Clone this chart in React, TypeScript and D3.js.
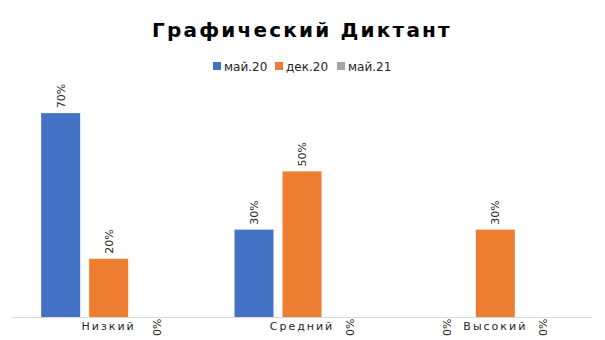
import React from 'react';
import * as d3 from 'd3';

const categories = ['Низкий', 'Средний', 'Высокий'];
const seriesNames = ['май.20', 'дек.20', 'май.21'];
const seriesColors = ['#4472C4', '#ED7D31', '#A5A5A5'];
const may20 = [0.7, 0.3, 0];
const dec20 = [0.2, 0.5, 0.3];
const may21 = [0, 0, 0];
const seriesValues = [may20, dec20, may21];

const W = 605;
const H = 340;
const plot = { left: 12, right: 592, top: 84, bottom: 317 };
const font = '"DejaVu Sans", Verdana, sans-serif';

export default function App() {
  const x0 = d3.scaleBand<string>().domain(categories).range([plot.left, plot.right]).paddingInner(0).paddingOuter(0);
  const groupW = 135;
  const x1 = d3.scaleBand<string>().domain(seriesNames).range([0, groupW]).paddingInner(9 / 48).paddingOuter(0);
  const y = d3.scaleLinear().domain([0, 0.8]).range([plot.bottom, plot.top]);
  const fmt = d3.format('.0%');

  return (
    <div style={{ position: 'absolute', left: 0, top: 0 }}>
      <svg width={W} height={H} style={{ display: 'block', background: '#fff' }} fontFamily={font}>
        <text x={302} y={37} textAnchor="middle" fontSize={20} fontWeight="bold" letterSpacing={2.2} fill="#000">
          Графический Диктант
        </text>
        <g transform="translate(213,61)">
          {seriesNames.map((s, i) => {
            const offs = [0, 62, 124][i];
            return (
              <g key={s} transform={`translate(${offs},0)`}>
                <rect x={0} y={1} width={8} height={8} fill={seriesColors[i]} />
                <text x={11} y={9.5} fontSize={12} fill="#262626">{s}</text>
              </g>
            );
          })}
        </g>
        <line x1={plot.left} x2={plot.right} y1={plot.bottom + 0.5} y2={plot.bottom + 0.5} stroke="#D9D9D9" strokeWidth={1} />
        {categories.map((c, ci) => {
          const gx = x0(c)! + x0.bandwidth() / 2 - groupW / 2;
          return (
            <g key={c} transform={`translate(${gx},0)`}>
              {seriesNames.map((s, si) => {
                const v = seriesValues[si][ci];
                const bx = x1(s)!;
                const bw = x1.bandwidth();
                const cx = bx + bw / 2 + 4;
                const top = y(v);
                return (
                  <g key={s}>
                    {v > 0 && <rect x={bx} y={top} width={bw} height={plot.bottom - top} fill={seriesColors[si]} />}
                    <text
                      transform={`translate(${cx},${v > 0 ? top - 5 : plot.bottom + 19}) rotate(-90)`}
                      fontSize={11}
                      fill="#262626"
                    >
                      {fmt(v)}
                    </text>
                  </g>
                );
              })}
            </g>
          );
        })}
        {categories.map((c) => (
          <text key={c} x={x0(c)! + x0.bandwidth() / 2} y={330} textAnchor="middle" fontSize={11} letterSpacing={2} fill="#262626">
            {c}
          </text>
        ))}
      </svg>
    </div>
  );
}
